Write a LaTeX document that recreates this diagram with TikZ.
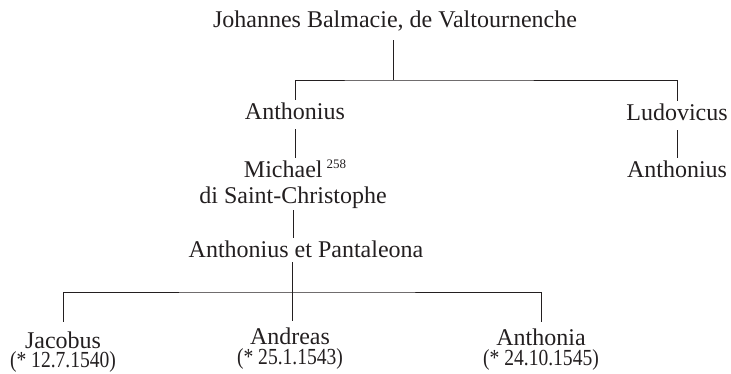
\documentclass[tikz,border=0pt]{standalone}
\usepackage{fontspec}
\setmainfont{Liberation Serif}
\definecolor{ink}{HTML}{231F20}
\newcommand{\narrow}[1]{\scalebox{0.85}[1]{#1}}
\begin{document}
\begin{tikzpicture}[x=1pt,y=-1pt,
  person/.style={inner xsep=0pt, inner ysep=5pt, text height=14pt, text depth=5pt,
                 anchor=base, font=\fontsize{24}{26}\selectfont, text=ink},
  child/.style={person, text height=18pt, text depth=0pt, inner ysep=5pt},
  birth/.style={inner sep=0pt, text height=13pt, text depth=4pt, anchor=base,
                font=\fontsize{23}{25}\selectfont, text=ink},
  link/.style={draw=ink, line width=0.8pt}]
\useasboundingbox (0,0) rectangle (731,373);

% generations
\node[person] (jb)  at (395,27)  {Johannes Balmacie, de Valtournenche};
\node[person] (an1) at (295,119) {Anthonius};
\node[person] (lud) at (677,120) {Ludovicus};
\node[person] (mic) at (295,177) {Michael\,\raisebox{9pt}{\fontsize{13}{13}\selectfont 258}};
\node[person] (dsc) at (293,203) {di Saint-Christophe};
\node[person] (an2) at (677,177) {Anthonius};
\node[person] (ap)  at (306,257) {Anthonius et Pantaleona};

\node[child] (jac) at (63,348)  {Jacobus};
\node[child] (and) at (290,344) {Andreas};
\node[child] (ant) at (541,345) {Anthonia};
\node[birth] (jacd) at (63,367)  {\narrow{(* 12.7.1540)}};
\node[birth] (andd) at (290,364) {\narrow{(* 25.1.1543)}};
\node[birth] (antd) at (541,365) {\narrow{(* 24.10.1545)}};

% branching points
\coordinate (top)  at (393,80);
\coordinate (kids) at (292,292);

% connectors
\draw[link, shorten <=3pt] (jb.south -| top) -- (top);
\draw[link] (an1.north) |- (top) -| (lud.north);
\draw[link] (an1.south) -- (mic.north);
\draw[link] (lud.south) -- (an2.north);
\draw[link, shorten <=-3pt] (dsc.south) -- (dsc.south |- ap.north);
\draw[link, shorten <=-5pt] (ap.south -| kids) -- (kids |- and.north);
\draw[link, shorten <=3pt] (jac.north) |- (kids) -| (ant.north);
\end{tikzpicture}
\end{document}
